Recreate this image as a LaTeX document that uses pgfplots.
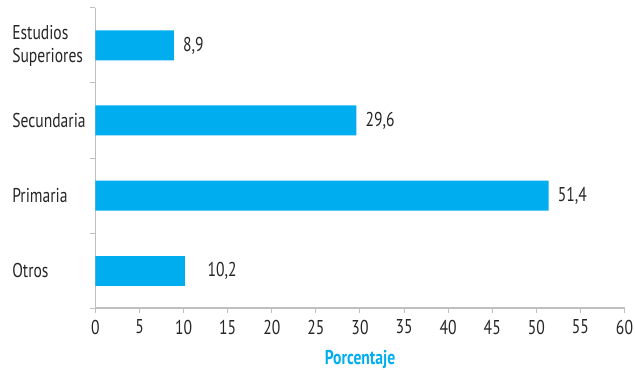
\documentclass[border=0pt]{standalone}
\usepackage{fontspec}
\setmainfont{PT Sans}[FakeStretch=0.78]
\usepackage{pgfplots}
\pgfplotsset{compat=1.18}
\definecolor{barc}{HTML}{00AEEF}
\definecolor{axc}{HTML}{BFBFBF}
\definecolor{txt}{HTML}{262626}
\begin{document}
\fontsize{20bp}{23bp}\selectfont
\begin{tikzpicture}
\begin{axis}[
  scale only axis, width=529bp, height=300bp,
  xbar, bar shift=0pt, bar width=30bp,
  xmin=0, xmax=60, ymin=-0.5, ymax=3.5,
  xtick={0,5,...,60},
  ytick={0,1,2,3},
  yticklabels={Otros, Primaria, Secundaria, {Estudios\\Superiores}},
  yticklabel style={text width=76bp, align=left, inner sep=0pt, xshift=-2bp, text=txt},
  xticklabel style={text=txt},
  /pgf/number format/assume math mode=true,
  axis x line*=bottom, axis y line*=left,
  axis line style={axc, line width=1.5bp},
  tick align=outside, major tick length=5bp,
  tick style={axc, line width=1bp},
  ytick style={draw=none},
  extra y ticks={-0.5,0.5,1.5,2.5,3.5},
  extra y tick labels={},
  extra y tick style={ytick style={draw=axc}},
  xlabel={Porcentaje},
  xlabel style={font=\bfseries, text=barc, yshift=-2bp},
  nodes near coords={\pgfmathprintnumber[use comma,fixed,fixed zerofill,precision=1,assume math mode=true]{\pgfplotspointmeta}},
  nodes near coords align=horizontal,
]
\addplot[fill=barc, draw=none, every node near coord/.append style={anchor=west, inner sep=0pt, xshift=9bp, text=txt}]
  coordinates {(8.9,3) (29.6,2) (51.4,1)};
\addplot[fill=barc, draw=none, every node near coord/.append style={anchor=west, inner sep=0pt, xshift=22bp, text=txt}]
  coordinates {(10.2,0)};
\coordinate (O) at (rel axis cs:0,0);
\end{axis}
\pgfresetboundingbox
\path (O) ++(-95.5bp,-62bp) rectangle ++(635bp,370bp);
\end{tikzpicture}
\end{document}
